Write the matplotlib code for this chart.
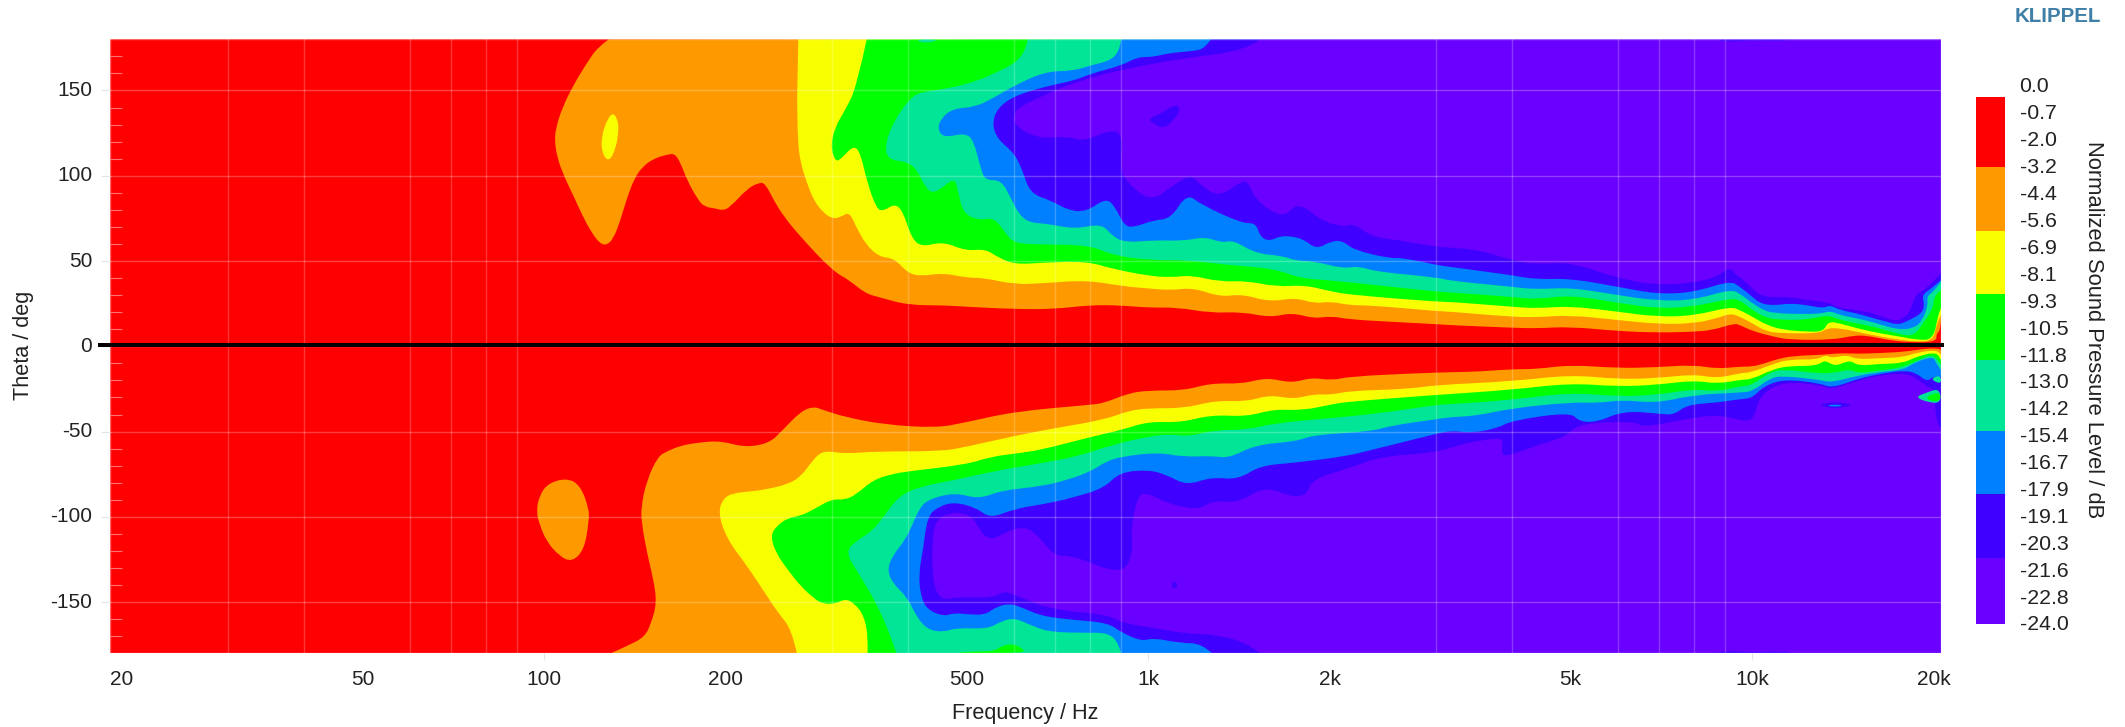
import matplotlib
matplotlib.use('Agg')
import matplotlib.pyplot as plt
from matplotlib.patches import PathPatch
from matplotlib.path import Path
from matplotlib.transforms import ScaledTranslation

plt.rcParams['font.family'] = ['Liberation Sans', 'DejaVu Sans']
plt.rcParams['axes.unicode_minus'] = False

# -------------------------------------------------------------------------------------------------------------------- #
# Data: contour outlines (frequency in Hz, theta in deg)
# -------------------------------------------------------------------------------------------------------------------- #

# upper half, red/orange
r_up_f = [128, 122.6, 117.5, 111.7, 107, 104.7, 104, 105.2, 108, 111.7, 115.6, 119.6, 123.7, 127, 130.2, 133.5, 137, 141,
          145.4, 151.7, 159.7, 164.4, 168, 172.4, 179.9, 184.5, 192.6, 197.5, 203.3, 217, 226.3, 232, 240, 248.4, 265,
          300, 320, 340, 360, 400, 460, 500, 600, 700, 800, 900, 1000, 1120, 1270, 1430, 1590, 1730, 1880, 2010, 2150,
          2510, 3000, 3160, 4000, 4386, 5000, 5990, 7000, 8000, 8600, 9330, 9540, 10000, 10830, 11550, 13620, 14700,
          15470, 16700, 18000, 20180, 20180, 20430, 20540]
r_up_t = [180, 175.4, 165.7, 153, 139.3, 128.6, 120.8, 110, 99.3, 88.6, 76.9, 67.1, 60.2, 59.3, 63.2, 73, 86.6, 98.3,
          105.2, 110, 112.4, 113, 108, 97.4, 85.6, 81.7, 80.8, 79.6, 81.7, 92.5, 95.8, 95.8, 85.6, 76.9, 64.6,
          44.3, 38.8, 31, 28.6, 24.2, 24, 23.2, 21.8, 21.8, 24.2, 24, 22.6, 22.8, 19.5, 20.2, 16.9, 19.7, 16.3, 17.7, 15.8,
          14.4, 13, 12.4, 10.9, 10.5, 11.5, 8.9, 8, 8.5, 9.5, 13.4, 12.5, 9, 5.7, 3.8, 3.8, 6.3,
          6.3, 3.8, 2.4, 2.4, 7.6, 8.6, 15]

# upper half, orange/yellow
o_up_f = [263.5, 262.5, 262.3, 263, 265.6, 272.5, 279.5, 289, 300, 310, 320, 328.6, 340, 358, 380, 400, 420, 458, 500, 533,
          600, 666, 790, 905, 1000, 1090, 1188, 1315, 1432, 1585, 1757, 1880, 2010, 2155, 2345, 3010, 3160, 4000, 4386,
          5000, 5990, 7000, 8000, 8740, 9190, 9540, 10000, 10560, 11260, 12950, 13280, 13960, 14880, 16280, 17550, 18720,
          19940, 20180, 20540]
o_up_t = [180, 150, 145, 120, 108, 95.4, 85.6, 78.8, 74.7, 75.9, 78.8, 70, 60.3, 52.5, 51.5, 43, 41.1, 43, 40.2, 40.2,
          36.3, 36.9, 38.8, 35.3, 33.9, 32.9, 34.3, 29, 30.6, 26.1, 28.5, 25.1, 26.3, 24, 24, 20.6, 20.3, 17.3, 17,
          18.3, 15.4, 13, 13.4, 16.4, 19.3, 17.4, 13.5, 8.6, 7.6, 7.6, 10.6, 10.6, 8.6, 5.7, 3.8, 2.8,
          3.4, 12.5, 18.4]

# upper half, yellow/green
y_up_f = [342, 329, 315, 303, 298, 304, 312, 326, 334, 343, 355, 364, 381, 393, 406, 422, 458, 498, 538, 562, 601, 666, 789,
          874, 1000, 1091, 1178, 1315, 1457, 1628, 1820, 2013, 2192, 3008, 3160, 4000, 4386, 5000, 5990, 6950, 8000, 9190,
          9540, 10000, 10560, 11260, 12300, 13110, 13360, 13960, 14880, 16280, 17550, 18720, 19940, 20320, 20540]
y_up_t = [180, 152, 138.4, 128.6, 116.9, 107.7, 111, 117.9, 113, 95.4, 80.8, 79.2, 83.7, 78.8, 63.2, 58.3, 61.4, 56, 57, 52.5,
          48, 49, 49.9, 45.4, 41.3, 40.4, 41.7, 37.8, 38.4, 34.9, 35.9, 32, 30, 26.1, 26.1, 23.2, 22.2, 23.6, 20.3, 17.3, 17.9,
          23.2, 21.3, 17.4, 12.5, 9.6, 8.6, 8.6, 14.5, 13.5, 10.6, 7.6, 5.7, 3.8, 3.8, 18.4, 22.3]

# upper half, green/teal
g_up_f = [632, 627, 601, 562, 525, 466, 420, 403, 380, 367, 370, 400, 415, 427, 440, 458, 478, 484, 494, 525, 556, 581, 601,
          666, 800, 874, 1000, 1168, 1361, 1614, 1788, 2000, 3008, 3160, 4000, 4386, 5000, 5990, 6950, 8000, 9190, 9540,
          10000, 10560, 11260, 12300, 13360, 13960, 14880, 15870, 17330, 18500, 19200, 19940, 20000, 20540]
g_up_t = [180, 173.5, 165.7, 160.8, 155.9, 151, 149.1, 145.2, 132.5, 118.8, 109.5, 108.1, 103.2, 93.5, 89.6, 93.5, 98.7, 91.5,
          77.8, 73.9, 75.5, 66.1, 60.3, 59.7, 59.3, 53.4, 50.5, 50.5, 47.6, 45.6, 39.8, 38.8, 32, 31.6, 29, 27.5, 30, 25.5, 22.2,
          23.2, 28, 27.2, 21.3, 16.4, 15.5, 15.5, 18.4, 15.5, 13.5, 11.6, 7.6, 5.7, 13.5, 22.3, 29.1, 33]

# upper half, teal/blue
t_up_f = [902, 897, 867, 803, 750, 677, 601, 552, 516, 474, 454, 448, 458, 498, 514, 529, 538, 571, 591, 612, 638, 677, 756,
          838, 874, 920, 1019, 1148, 1239, 1326, 1384, 1507, 1670, 1757, 1880, 2101, 2230, 2387, 3008, 3160, 4000, 4386,
          5000, 5990, 6950, 8000, 9190, 9540, 10000, 10430, 10830, 12300, 13110, 13450, 13960, 14880, 15870, 17440, 18500,
          19090, 19570, 19450, 19940, 20540]
t_up_t = [180, 173.5, 167.6, 164.7, 161.4, 161.2, 153, 145.2, 140.3, 139.3, 133.5, 127.6, 122.3, 125, 120.8, 103.2, 97.4, 97.4,
          87.6, 76.9, 72.4, 72, 68.7, 72, 64.2, 60.9, 62.2, 61.8, 64.2, 60.7, 62.2, 54.4, 53, 50.1, 49.9, 45.6, 47, 43.7, 40.4,
          38.4, 34.9, 33.3, 34.5, 30, 26.7, 27.1, 33.3, 31, 25.2, 21.3, 19.4, 18.8, 19.4, 20.7, 18.4, 16.4, 14.1, 9.6, 10.6,
          14.5, 24.2, 29.1, 32, 37.9]

# upper half, blue/indigo
b_up_f = [1271, 1239, 1188, 1081, 1019, 960, 905, 803, 756, 689, 601, 562, 552, 562, 601, 619, 638, 689, 737, 789, 852, 882,
          912, 944, 1019, 1091, 1158, 1229, 1432, 1507, 1533, 1587, 1670, 1804, 1897, 2013, 2101, 2192, 2511, 2643, 3008,
          3160, 4000, 4386, 5000, 5990, 6950, 8000, 9190, 9540, 10000, 10300, 10830, 11550, 12300, 13110, 13450, 13960,
          14880, 15870, 16700, 17440, 18250, 19090, 19290, 19090, 19810, 20540]
b_up_t = [180, 174.5, 173.1, 171.9, 169.6, 169.6, 164.7, 159.8, 155.9, 153, 147.1, 139.3, 130.5, 121.8, 113, 103.2, 89.6, 85.6,
          79.8, 78.8, 87, 81.7, 71, 69.6, 73.9, 74.9, 89.6, 82.7, 72, 72.4, 64.2, 61.6, 65.2, 63.2, 56.8, 61.8, 61.8, 56.4,
          51.5, 51.9, 47.6, 46.6, 41.7, 39.2, 39.8, 34.9, 30.6, 31.6, 38.4, 35, 29.1, 25.2, 23.9, 25.2, 24.2, 22.3, 24.2, 21.3,
          19.4, 16.4, 14.5, 12.5, 15.5, 19.4, 24.2, 30.1, 34, 38.9]

# upper half, indigo/violet
i_up_f = [1533, 1457, 1128, 920, 789, 689, 612, 599, 601, 655, 737, 783, 859, 908, 897, 920, 1010, 1100, 1178, 1229, 1315, 1432,
          1469, 1507, 1670, 1773, 1929, 2101, 2192, 2346, 2598, 3008, 3160, 3540, 4000, 4386, 5000, 5990, 6950, 8000, 8740,
          9190, 9400, 9540, 10000, 10300, 10830, 11550, 12300, 13360, 13960, 14880, 15870, 16700, 17440, 18250, 18600, 19090,
          19810, 20540]
i_up_t = [180, 173.5, 168.6, 162.8, 156.9, 149.1, 140.3, 136.4, 129.6, 121.8, 123.1, 120.2, 126.6, 125.1, 105.2, 96.4, 84.7, 94.4,
          100.9, 93.5, 87.6, 97.4, 95.4, 85.6, 74.9, 84.7, 73.9, 70, 72, 64.2, 62.2, 58.3, 57.9, 56.4, 50.5, 48, 49.5, 39.8, 35.9,
          37.2, 40.7, 46.6, 41.7, 40.8, 34, 30.1, 28.5, 29.1, 27.2, 25.8, 22.3, 21.3, 19.4, 16.4, 14.5, 19.4, 30.1, 32, 36.9, 43]

# lower half, red/orange
r_lo_f = [129, 137, 146.6, 150.4, 153.6, 151.7, 148, 145, 144.7, 148, 154.3, 159.7, 168, 180, 196, 215, 236, 248.4, 266, 279,
          289, 315, 367, 446, 498, 601, 803, 845, 928, 1000, 1148, 1271, 1432, 1573, 1727, 1864, 2013, 2155, 2781, 3160, 3540,
          4000, 4386, 5000, 5990, 6950, 7990, 8740, 9540, 10000, 10430, 10970, 11690, 13110, 13960, 14880, 16280, 18000, 18960,
          20180, 20540]
r_lo_t = [-180, -175.8, -170.6, -162.2, -150.5, -136.8, -121.2, -103.6, -93.9, -78.2, -64.6, -61.6, -58.3, -56.4, -55.4, -59.3,
          -56.8, -49, -38.2, -35.3, -37.2, -41.5, -46, -47.8, -44.7, -38.2, -34.3, -33.3, -27.5, -25.9, -25.9, -21.6, -22,
          -18.3, -21.6, -18.3, -20, -17.7, -15.8, -15.2, -14.8, -13.4, -13.4, -10.9, -12.8, -12.3, -10.9, -13.2, -11.9, -11.9,
          -10.3, -7.6, -5.6, -5, -4, -4.4, -4, -3.1, -1.7, -1.1, -2.1]

# lower half, orange/yellow
o_lo_f = [262, 257, 244, 232, 217, 201, 194, 198, 206, 221, 232, 253, 266, 275, 286, 299, 315, 355, 453, 498, 601, 701, 845, 928,
          1000, 1148, 1293, 1457, 1587, 1742, 1880, 2013, 2155, 2690, 3008, 4000, 5000, 5990, 6950, 7990, 8740, 9540, 10000,
          10830, 11550, 12780, 13250, 13530, 14330, 14880, 16280, 17780, 18720, 20180, 20540]
o_lo_t = [-180, -166, -156.3, -144.6, -129, -113.4, -97.8, -89, -86, -85, -84, -81, -76.3, -69.4, -62.2, -61.6, -63, -61.6, -61.6,
          -59.1, -52.5, -48, -43.1, -37.8, -36.3, -36.3, -31.8, -32.4, -28.5, -31, -28, -28.5, -26.1, -25.1, -22.6, -20.6, -16.7,
          -19.3, -18.7, -16.4, -18.7, -15.8, -15.2, -10.3, -7.6, -7.9, -5, -7, -5, -7.6, -7, -6.4, -3.7, -2.1, -5]

# lower half, yellow/green
y_lo_f = [343, 344, 339, 326, 315, 303, 289, 279, 266, 253, 242, 237, 242, 253, 266, 279, 299, 315, 328, 351, 377, 400, 498, 552,
          601, 666, 789, 905, 1000, 1132, 1271, 1457, 1614, 1804, 2013, 2155, 2781, 3008, 4000, 5000, 5990, 6950, 7990, 8740,
          9540, 10000, 10830, 11550, 12780, 13200, 13700, 14510, 14980, 16280, 17780, 18720, 20180, 20540]
y_lo_t = [-180, -172, -158.3, -150.5, -148.1, -151, -151, -147.5, -140.7, -131, -121.2, -111.4, -105.6, -100.7, -99.3, -95.8, -89.6,
          -90, -87, -78.2, -74.9, -73.3, -69.4, -64.6, -63, -60.7, -53.8, -49, -44.1, -44.7, -40.2, -41.2, -36.9, -37.6, -34, -32.4,
          -29.4, -28.5, -25.5, -21.6, -23.6, -22.6, -20, -22, -19.7, -19.3, -13.4, -11.5, -11.5, -8, -11.9, -8, -11.5, -10.3, -9.9,
          -6, -3.3, -8]

# lower half, green/teal
g_lo_f = [383, 377, 367, 351, 331, 315, 331, 349, 367, 386, 420, 482, 552, 666, 763, 874, 1000, 1091, 1168, 1293, 1457, 1614, 2013,
          2430, 3008, 3160, 4000, 5000, 5990, 6950, 7990, 8740, 9540, 10000, 10630, 11260, 12780, 13620, 14510, 14980, 16280,
          17780, 18720, 19940, 20540]
g_lo_t = [-180, -172.9, -162.2, -147.5, -132.9, -120.2, -113.4, -108.5, -98.7, -88, -82.1, -78.2, -73.4, -68.5, -64.6, -57.7, -52.9,
          -51.5, -52.9, -49, -49, -45.1, -42.1, -39.2, -34.3, -34, -31.4, -27.1, -29.4, -28.5, -25.1, -26.5, -23.6, -22.6, -15.8,
          -13.4, -15.8, -15.8, -13.4, -15.8, -14.2, -12.3, -8.4, -4.5, -10.9]

# lower half, teal/blue
t_lo_f = [902, 893, 859, 789, 689, 644, 601, 571, 543, 482, 458, 431, 413, 400, 377, 370, 377, 396, 406, 417, 431, 478, 525, 571, 666,
          737, 803, 852, 905, 1036, 1148, 1271, 1361, 1507, 1757, 1880, 2346, 2511, 3008, 3160, 3490, 4000, 5000, 5550, 6090, 6950,
          7990, 9540, 10000, 10700, 11260, 12950, 13530, 14880, 16490, 17780, 18720, 19940, 20180, 20540]
t_lo_t = [-180, -173.9, -168, -168, -167.6, -164.1, -159.2, -161.2, -165.7, -165.1, -167.6, -166.1, -158.3, -147.5, -138.7, -130.9,
          -123.1, -113.4, -105.6, -95.8, -89.9, -85.7, -89.6, -84.5, -82.1, -78.2, -73.4, -67.5, -64.6, -62.2, -64.9, -64.2, -65.6,
          -57.7, -55.8, -51.9, -49.9, -46.6, -42.7, -41.5, -40.8, -36.3, -32.8, -33.3, -31.4, -33.3, -28.5, -27.1, -26.5, -18.7,
          -17.3, -19.7, -21.2, -17.3, -14.8, -13.8, -8.9, -6, -9.9, -14]

# lower half, blue/indigo
b_lo_f = [1275, 1229, 1128, 1019, 976, 905, 859, 763, 666, 612, 586, 556, 538, 507, 478, 458, 431, 420, 417, 424, 431, 450, 478, 520,
          548, 601, 689, 763, 845, 897, 1000, 1072, 1158, 1271, 1408, 1533, 1727, 2119, 2346, 2880, 3160, 3430, 3790, 4000, 5000,
          5170, 5530, 6130, 7060, 7420, 7800, 8740, 9540, 10000, 10430, 11260, 12950, 13530, 15080, 16490, 17890, 18720, 19450,
          19940, 20540]
b_lo_t = [-180, -174.3, -173.9, -171, -172.9, -168, -162.2, -160.6, -158.3, -152.4, -150.8, -153.4, -157.3, -157.3, -156.3, -158.3,
          -154.4, -146.6, -132.9, -119.2, -99.7, -93.9, -91.3, -94.8, -101, -95.2, -91.9, -88, -83.1, -73.9, -72.4, -75.3, -81.6,
          -76.7, -78.2, -70, -68.5, -64.6, -60.7, -52.9, -49.3, -50.9, -48, -43.5, -38.6, -44.1, -44.5, -37.8, -39.6, -40.2, -34.3,
          -33, -31, -30.4, -23.6, -19.3, -21.6, -24.6, -18.7, -15.8, -14.2, -15.8, -20.7, -17.7, -18]

# lower half, indigo/violet
i_lo_f = [1533, 1457, 1293, 1148, 1019, 905, 859, 689, 601, 576, 552, 482, 458, 443, 439, 439, 443, 478, 512, 525, 548, 591, 632, 666,
          701, 750, 859, 920, 944, 936, 960, 993, 1072, 1208, 1282, 1408, 1559, 1727, 1833, 1864, 2155, 2430, 2930, 3160, 3380,
          3790, 3870, 3840, 3920, 4386, 4920, 5170, 6400, 6600, 7420, 8740, 9800, 10100, 10300, 11260, 12950, 13530, 15080, 16490,
          17890, 18720, 19450, 20000, 20100, 20300, 20540]
i_lo_t = [-180, -173.9, -169, -168.4, -165.1, -162.2, -157.3, -154.4, -145.6, -143.6, -147.5, -146.9, -148.9, -142.7, -129, -117.3,
          -101.7, -96.8, -99.7, -107.5, -114.3, -107.5, -106, -113.4, -123.1, -122.7, -131.3, -130.9, -119.2, -107.5, -88, -85.7,
          -91.9, -96.2, -90.3, -91.9, -82.1, -88.4, -87, -78.2, -71.4, -64.6, -62.6, -59.7, -56.4, -53.8, -54.8, -62.6, -64.6, -58.3,
          -52.9, -45.1, -44.1, -47.4, -44.1, -39.6, -44.5, -41.1, -28.5, -20.6, -22.6, -25.5, -19.7, -16.7, -15.8, -18.7, -23.6, -25,
          -38, -46, -48]

# small islands
isl_yellow_f = [130.2, 132.4, 132.9, 131.4, 128, 124.7, 124.3, 127.3]
isl_yellow_t = [137, 132.5, 126.6, 115.9, 108.1, 113, 122.7, 133.5]
isl_orange_f = [108.9, 114.6, 118.6, 118.6, 116.5, 111.2, 106.1, 100.9, 98.3, 97, 98.3, 101.7]
isl_orange_t = [-77.3, -81.2, -95, -102.6, -119.2, -126.4, -123.2, -114.4, -104.6, -96.8, -87, -80.2]
isl_indigo_f = [1002, 1036, 1109, 1132, 1109, 1063, 1019]
isl_indigo_t = [133.5, 135.4, 141.9, 139.3, 133.5, 127.6, 130.5]
isl_teal_f = [410, 427, 454]
isl_teal_t = [180, 177.4, 180]
isl_green_f = [466, 525, 556, 571, 596, 618, 627]
isl_green_t = [-180, -178.8, -178.8, -175.8, -174.3, -176.8, -180]
isl_dot_f = [1090, 1106, 1122, 1106]
isl_dot_t = [-140, -137.6, -140, -142.4]
isl_top_f = [8600, 9000, 9500, 10000, 11000, 12000]
isl_top_t = [180, 178.8, 178.8, 179.5, 178.9, 180]
isl_bot_t = [-180, -178.8, -178.8, -179.5, -178.9, -180]
isl_halo_f = [12860, 13500, 14100, 14700, 14100, 13500]
isl_halo_t = [-34.5, -32.8, -33, -34.5, -36, -36.3]
isl_blue_f = [13250, 13700, 14200, 13700]
isl_blue_t = [-34.7, -34, -34.7, -35.6]
wedge_teal_f = [18600, 19450, 20430, 20540, 19570]
wedge_teal_t = [-29.8, -27.1, -24.6, -33.3, -32.9]
wedge_green_f = [19320, 20430, 20540, 19810]
wedge_green_t = [-29.8, -26.5, -31.8, -32.4]
edge_teal_f = [19800, 20200, 20540, 20540, 20200]
edge_teal_t = [-19.3, -17.3, -18, -21.5, -21.2]

# axes
x_ticks = [20, 50, 100, 200, 500, 1000, 2000, 5000, 10000, 20000]
x_labels = ['20', '50', '100', '200', '500', '1k', '2k', '5k', '10k', '20k']
x_grid = [20, 30, 40, 50, 60, 70, 80, 90, 100, 200, 300, 400, 500, 600, 700, 800, 900, 1000, 2000, 3000, 4000, 5000, 6000, 7000,
          8000, 9000, 10000, 20000]
y_ticks = [-150, -100, -50, 0, 50, 100, 150]
y_minor = [-170, -160, -140, -130, -120, -110, -90, -80, -70, -60, -40, -30, -20, -10, 10, 20, 30, 40, 60, 70, 80, 90, 110, 120,
           130, 140, 160, 170]

# colour scale
cbar_labels = ['0.0', '-0.7', '-2.0', '-3.2', '-4.4', '-5.6', '-6.9', '-8.1', '-9.3', '-10.5', '-11.8', '-13.0', '-14.2', '-15.4',
               '-16.7', '-17.9', '-19.1', '-20.3', '-21.6', '-22.8', '-24.0']
cbar_edges = [0, -3.2, -6.1, -9, -12, -15.2, -18.1, -21, -24]

red, orange, yellow, green = '#ff0000', '#ff9900', '#f8ff00', '#00ff00'
teal, blue, indigo, violet = '#00e696', '#0080ff', '#4000ff', '#6a00ff'
band_colors = [red, orange, yellow, green, teal, blue, indigo, violet]
text_color = '#222222'

# -------------------------------------------------------------------------------------------------------------------- #
# Plot
# -------------------------------------------------------------------------------------------------------------------- #

W, H = 2125, 727
XMIN, XMAX = 19.07, 20540


def px_axes(left, top, right, bottom):
    return fig.add_axes([left / W, 1 - bottom / H, (right - left) / W, (bottom - top) / H])


def mid(p, q):
    # halfway in screen terms, frequency axis is log
    return (p[0] * q[0]) ** 0.5, (p[1] + q[1]) / 2


def rounded_outline(f, t, corner_t=None, closed=False):
    # read points are the control points of quadratic curves, so the outline stays round like the contour lines
    pts = list(zip(f, t))
    if closed:
        start = mid(pts[-1], pts[0])
        verts, codes = [start], [Path.MOVETO]
        for k, p in enumerate(pts):
            verts += [p, mid(p, pts[(k + 1) % len(pts)])]
            codes += [Path.CURVE3, Path.CURVE3]
    else:
        verts, codes = [pts[0]], [Path.MOVETO]
        for p, q in zip(pts[1:-1], pts[2:]):
            verts += [p, mid(p, q)]
            codes += [Path.CURVE3, Path.CURVE3]
        verts.append(pts[-1])
        codes.append(Path.LINETO)
        if corner_t is not None:
            verts += [(XMAX * 1.01, pts[-1][1]), (XMAX * 1.01, corner_t)]
            codes += [Path.LINETO, Path.LINETO]
    verts.append(verts[0])
    codes.append(Path.CLOSEPOLY)
    return Path(verts, codes)


fig = plt.figure(figsize=(W / 100, H / 100), dpi=100)
ax = px_axes(109.5, 39.3, 1941, 653.3)
ax.set_xscale('log')
ax.set_xlim(XMIN, XMAX)
ax.set_ylim(-180, 180)
ax.set_facecolor(red)

upper = [(r_up_f, r_up_t, orange), (o_up_f, o_up_t, yellow), (y_up_f, y_up_t, green), (g_up_f, g_up_t, teal),
         (t_up_f, t_up_t, blue), (b_up_f, b_up_t, indigo), (i_up_f, i_up_t, violet)]
lower = [(r_lo_f, r_lo_t, orange), (o_lo_f, o_lo_t, yellow), (y_lo_f, y_lo_t, green), (g_lo_f, g_lo_t, teal),
         (t_lo_f, t_lo_t, blue), (b_lo_f, b_lo_t, indigo), (i_lo_f, i_lo_t, violet)]

# each region is filled over the previous one, closed round the outer corner of the half
for f, t, col in upper:
    ax.add_patch(PathPatch(rounded_outline(f, t, corner_t=181), facecolor=col, lw=0, zorder=1))
for f, t, col in lower:
    ax.add_patch(PathPatch(rounded_outline(f, t, corner_t=-181), facecolor=col, lw=0, zorder=1))

islands = [(isl_yellow_f, isl_yellow_t, yellow), (isl_orange_f, isl_orange_t, orange), (isl_indigo_f, isl_indigo_t, indigo),
           (isl_teal_f, isl_teal_t, teal), (isl_green_f, isl_green_t, green), (isl_dot_f, isl_dot_t, indigo),
           (isl_top_f, isl_top_t, indigo), (isl_top_f, isl_bot_t, indigo), (isl_halo_f, isl_halo_t, indigo),
           (isl_blue_f, isl_blue_t, blue), (wedge_teal_f, wedge_teal_t, teal), (wedge_green_f, wedge_green_t, green),
           (edge_teal_f, edge_teal_t, teal)]
for f, t, col in islands:
    ax.add_patch(PathPatch(rounded_outline(f, t, closed=True), facecolor=col, lw=0, zorder=2))

# grid
ax.set_xticks(x_ticks, labels=x_labels)
ax.set_xticks(x_grid, labels=[''] * len(x_grid), minor=True)
ax.set_yticks(y_ticks)
ax.set_yticks(y_minor, minor=True)
ax.grid(True, which='major', axis='y', color='white', alpha=0.25, lw=1, zorder=3)
ax.grid(True, which='minor', axis='x', color='white', alpha=0.22, lw=1, zorder=3)
ax.set_axisbelow(False)
ax.tick_params(axis='x', which='minor', length=0)
ax.tick_params(axis='y', which='minor', length=8.6, width=0.8, direction='in', color=(1, 1, 1, 0.45))
ax.tick_params(axis='x', which='major', length=5, width=0.8, color='#e4e4e4', labelsize=15, labelcolor=text_color, pad=7)
ax.tick_params(axis='y', which='major', length=6.5, width=0.8, color='#e4e4e4', labelsize=15, labelcolor=text_color, pad=6)
for tick, lab in zip(ax.xaxis.get_major_ticks(), x_labels):
    if lab not in ('100', '1k', '10k'):
        tick.tick1line.set_markersize(0)
# y labels sit 2 px above their grid lines
shift_up = ScaledTranslation(0, 2 / 100, fig.dpi_scale_trans)
for tick in ax.yaxis.get_major_ticks():
    tick.label1.set_transform(tick.label1.get_transform() + shift_up)
for side in ax.spines:
    ax.spines[side].set_color((1, 1, 1, 0.4))
    ax.spines[side].set_linewidth(1)

# zero line runs a little past the frame on both sides
ax.plot([-0.0064, 1.0016], [1, 1], transform=ax.get_yaxis_transform(), color='black', lw=2.9, solid_capstyle='butt',
        clip_on=False, zorder=5)

fig.text(1025 / W, 1 - 713 / H, 'Frequency / Hz', fontsize=15.6, color=text_color, ha='center', va='center')
fig.text(23 / W, 1 - 345 / H, 'Theta / deg', fontsize=15.6, color=text_color, ha='center', va='center', rotation=90)

# colour bar
cax = px_axes(1976, 96.7, 2005, 624)
for k, col in enumerate(band_colors):
    cax.bar(0, cbar_edges[k + 1] - cbar_edges[k], bottom=cbar_edges[k], width=1, color=col, lw=0)
cax.set_xlim(-0.5, 0.5)
cax.set_ylim(-24, 0)
cax.axis('off')

lab_ax = px_axes(1976, 85, 2005, 623)
lab_ax.set_ylim(len(cbar_labels) - 1, 0)
lab_ax.set_xticks([])
lab_ax.yaxis.tick_right()
lab_ax.set_yticks(range(len(cbar_labels)), labels=cbar_labels)
lab_ax.tick_params(axis='y', length=0, labelsize=15.3, labelcolor=text_color, pad=10.5)
lab_ax.patch.set_visible(False)
for side in lab_ax.spines:
    lab_ax.spines[side].set_visible(False)

fig.text(2093 / W, 1 - 330 / H, 'Normalized Sound Pressure Level / dB', fontsize=15.8, color=text_color, ha='center', va='center',
         rotation=270)
fig.text(2058 / W, 1 - 17 / H, 'KLIPPEL', fontsize=14.8, fontweight='bold', color='#3f7ea6', ha='center', va='center')

fig.savefig('out.png', dpi=100)
